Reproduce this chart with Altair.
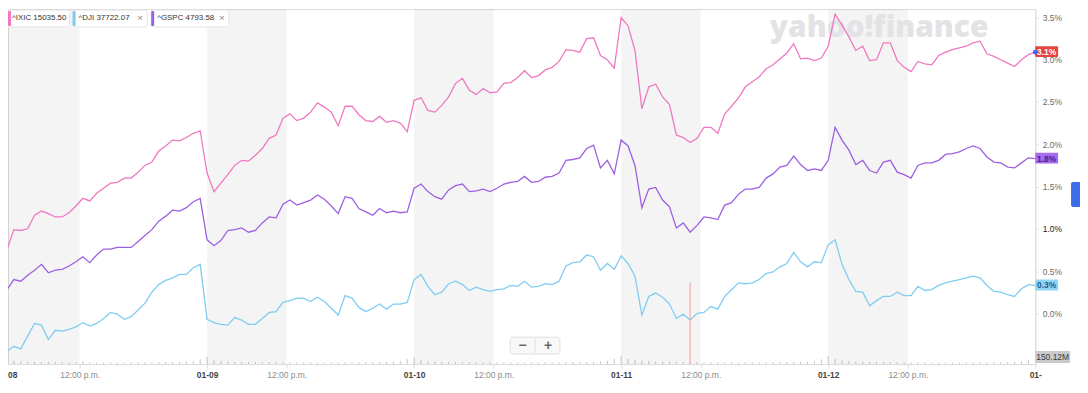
import altair as alt
import pandas as pd

# ---------------- data ----------------
symbols = ["^IXIC", "^DJI", "^GSPC"]
last_prices = ["15035.50", "37722.07", "4793.58"]
line_colors = ["#ee79c0", "#80cdf2", "#9e60e2"]
end_labels = ["3.1%", "0.3%", "1.8%"]
label_fills = ["#e4443d", "#90d4f6", "#a66cf2"]
label_text_colors = ["#ffffff", "#1d5d8c", "#4a1e88"]
day_labels = ["01-08", "01-09", "01-10", "01-11", "01-12", "01-"]

# percent change, sampled every 13 minutes of each trading session (30 per day) + final close
ixic = [
    0.38, 0.75, 0.99, 0.98, 1.00, 1.16, 1.21, 1.18, 1.14, 1.14, 1.19, 1.27, 1.36, 1.33, 1.42,
    1.48, 1.54, 1.55, 1.60, 1.60, 1.67, 1.75, 1.79, 1.92, 1.98, 2.05, 2.04, 2.08, 2.13, 2.16,
    1.66, 1.44, 1.54, 1.64, 1.75, 1.81, 1.80, 1.87, 1.95, 2.07, 2.11, 2.31, 2.36, 2.28, 2.31,
    2.38, 2.49, 2.44, 2.38, 2.22, 2.45, 2.45, 2.35, 2.28, 2.27, 2.33, 2.26, 2.28, 2.25, 2.15,
    2.52, 2.55, 2.40, 2.38, 2.46, 2.56, 2.72, 2.78, 2.64, 2.59, 2.66, 2.61, 2.62, 2.72, 2.73,
    2.79, 2.87, 2.79, 2.81, 2.88, 2.91, 2.98, 3.12, 3.11, 3.09, 3.25, 3.26, 3.05, 3.00, 2.90,
    3.50, 3.40, 3.11, 2.42, 2.68, 2.71, 2.56, 2.47, 2.11, 2.08, 2.02, 2.07, 2.20, 2.20, 2.13,
    2.36, 2.45, 2.55, 2.68, 2.74, 2.80, 2.89, 2.94, 3.01, 3.08, 3.19, 3.01, 3.02, 2.99, 3.02,
    3.16, 3.54, 3.41, 3.27, 3.11, 3.16, 2.99, 3.00, 3.20, 3.20, 2.99, 2.91, 2.86, 2.98, 2.95,
    2.94, 3.05, 3.09, 3.12, 3.14, 3.16, 3.20, 3.22, 3.07, 3.04, 3.00, 2.96, 2.92, 3.00, 3.06,
    3.09,
]
dji = [
    -0.27, -0.45, -0.39, -0.42, -0.27, -0.12, -0.14, -0.31, -0.20, -0.21, -0.19, -0.16, -0.11, -0.15, -0.12,
    -0.06, 0.01, -0.01, -0.07, -0.04, 0.04, 0.12, 0.25, 0.34, 0.39, 0.42, 0.46, 0.46, 0.54, 0.58,
    -0.07, -0.11, -0.13, -0.14, -0.05, -0.08, -0.13, -0.13, -0.06, 0.01, 0.02, 0.13, 0.15, 0.18, 0.18,
    0.14, 0.19, 0.14, 0.06, -0.02, 0.21, 0.18, 0.07, 0.02, 0.06, 0.11, 0.05, 0.11, 0.11, 0.13,
    0.40, 0.46, 0.32, 0.22, 0.25, 0.35, 0.38, 0.34, 0.27, 0.31, 0.28, 0.26, 0.28, 0.29, 0.33,
    0.32, 0.38, 0.31, 0.32, 0.35, 0.34, 0.38, 0.56, 0.60, 0.61, 0.69, 0.67, 0.51, 0.59, 0.52,
    0.68, 0.59, 0.44, -0.02, 0.20, 0.24, 0.19, 0.11, -0.06, -0.01, -0.08, 0.00, 0.01, 0.08, 0.05,
    0.20, 0.28, 0.36, 0.35, 0.36, 0.40, 0.47, 0.49, 0.55, 0.59, 0.72, 0.61, 0.55, 0.61, 0.60,
    0.81, 0.87, 0.58, 0.40, 0.26, 0.25, 0.09, 0.15, 0.20, 0.20, 0.25, 0.21, 0.21, 0.32, 0.27,
    0.28, 0.33, 0.36, 0.38, 0.40, 0.42, 0.44, 0.42, 0.33, 0.26, 0.25, 0.22, 0.20, 0.29, 0.34,
    0.33,
]
gspc = [
    0.20, 0.28, 0.40, 0.38, 0.45, 0.51, 0.58, 0.48, 0.51, 0.52, 0.56, 0.61, 0.67, 0.60, 0.69,
    0.76, 0.76, 0.78, 0.78, 0.78, 0.85, 0.92, 0.99, 1.09, 1.15, 1.22, 1.21, 1.25, 1.32, 1.36,
    0.87, 0.80, 0.86, 0.98, 0.99, 1.01, 0.96, 0.98, 1.07, 1.14, 1.13, 1.29, 1.34, 1.28, 1.31,
    1.34, 1.40, 1.35, 1.27, 1.18, 1.38, 1.36, 1.24, 1.20, 1.16, 1.24, 1.19, 1.21, 1.19, 1.20,
    1.48, 1.53, 1.44, 1.38, 1.35, 1.46, 1.51, 1.53, 1.44, 1.45, 1.47, 1.44, 1.48, 1.53, 1.55,
    1.56, 1.62, 1.55, 1.56, 1.61, 1.62, 1.66, 1.81, 1.82, 1.84, 1.95, 1.99, 1.72, 1.81, 1.65,
    2.05, 1.98, 1.75, 1.25, 1.47, 1.49, 1.34, 1.26, 1.01, 1.07, 0.96, 1.04, 1.14, 1.13, 1.11,
    1.28, 1.31, 1.41, 1.47, 1.47, 1.49, 1.60, 1.65, 1.73, 1.75, 1.86, 1.76, 1.69, 1.71, 1.69,
    1.81, 2.20, 2.05, 1.93, 1.76, 1.81, 1.69, 1.66, 1.79, 1.81, 1.67, 1.64, 1.60, 1.75, 1.78,
    1.78, 1.81, 1.88, 1.89, 1.91, 1.95, 1.98, 1.95, 1.85, 1.79, 1.78, 1.73, 1.72, 1.78, 1.84,
    1.83,
]
# volume (millions) per sample
volume = [
    38, 22, 16, 14, 12, 11, 10, 12, 9, 9, 8, 9, 14, 8, 8, 7, 8, 7, 7, 8, 8, 9, 8, 9, 10, 10, 11, 13, 16, 24,
    36, 20, 15, 13, 11, 10, 10, 9, 9, 9, 8, 8, 8, 8, 7, 8, 7, 7, 8, 7, 8, 8, 8, 9, 9, 10, 11, 12, 15, 26,
    34, 19, 14, 12, 11, 10, 9, 9, 9, 8, 8, 8, 8, 7, 7, 7, 7, 8, 7, 8, 8, 8, 9, 9, 9, 10, 11, 13, 16, 28,
    40, 26, 20, 17, 15, 13, 12, 13, 12, 11, 10, 9, 9, 8, 8, 8, 8, 7, 8, 8, 8, 8, 9, 9, 10, 10, 11, 12, 15, 24,
    42, 25, 18, 15, 13, 12, 11, 11, 10, 9, 9, 8, 8, 8, 8, 7, 7, 7, 8, 7, 8, 8, 8, 8, 9, 9, 10, 12, 14, 22,
]
crosshair_time = [3.333]
crosshair_value = [0.365]
current_volume_label = "150.12M"

# ---------------- time axis (trading days) ----------------
session_hours = 6.5
noon_frac = 2.5 / session_hours          # 12:00 p.m. is 2.5 h after the 9:30 open
points_per_day = 30
n_days = 5
times = [d + k / points_per_day for d in range(n_days) for k in range(points_per_day)] + [float(n_days)]
x_start = 0.0384                          # first minutes of 01-08 sit under the page edge

tick_times, tick_labels = [], []
for d in range(n_days):
    tick_times += [d + noon_frac, d + 1]
    tick_labels += ["12:00 p.m.", day_labels[d + 1]]

label_expr = "''"
for t, lab in reversed(list(zip(tick_times, tick_labels))):
    label_expr = f"abs(datum.value - {t:.4f}) < 0.01 ? '{lab}' : ({label_expr})"

rows = []
for sym, vals in zip(symbols, [ixic, dji, gspc]):
    for t, v in zip(times, vals):
        rows.append({"sym": sym, "t": t, "v": v})
df_lines = pd.DataFrame(rows)
df_vol = pd.DataFrame({"t": times[:-1], "vol": volume})
df_bands = pd.DataFrame({"start": [float(d) for d in range(n_days)],
                         "end": [d + noon_frac for d in range(n_days)]})
df_end = pd.DataFrame({"sym": symbols, "t": [times[-1]] * 3,
                       "v": [ixic[-1], dji[-1], gspc[-1]], "lab": end_labels,
                       "fill": label_fills, "tc": label_text_colors})
df_cross = pd.DataFrame({"t": crosshair_time, "v": crosshair_value})
one = pd.DataFrame({"a": [0]})

W, H = 1033, 357
FONT = "Liberation Sans"
xs = alt.Scale(domain=[x_start, n_days], nice=False, zero=False)
ys = alt.Scale(domain=[-0.6, 3.6], nice=False, zero=False)

x_axis = alt.Axis(
    values=tick_times, labelExpr=label_expr, grid=False, title=None,
    domainColor="#dddddd", tickColor="#dddddd", tickSize=4, labelPadding=3,
    labelFont=FONT, labelFontSize=8.5, labelOverlap=False, labelFlush=False,
    labelColor={"condition": {"test": "datum.value % 1 === 0", "value": "#444444"}, "value": "#8c8c8c"},
    labelFontWeight={"condition": {"test": "datum.value % 1 === 0", "value": "bold"}, "value": "normal"},
)
y_axis = alt.Axis(
    orient="right", values=[-0.5, 0, 0.5, 1, 1.5, 2, 2.5, 3, 3.5], title=None,
    labelExpr="datum.value < 0 ? '' : format(datum.value, '.1f') + '%'",
    gridColor="#eeeeee", domainColor="#dddddd", tickColor="#dddddd", tickSize=3,
    labelPadding=4, labelFont=FONT, labelFontSize=8.5,
    labelColor={"condition": {"test": "datum.value === 1", "value": "#222222"}, "value": "#6a6a6a"},
)


def X(field):
    return alt.X(field, scale=xs, axis=x_axis)


def Y(field):
    return alt.Y(field, scale=ys, axis=y_axis)


bands = alt.Chart(df_bands).mark_rect(color="#000000", opacity=0.042, clip=True).encode(
    x=X("start:Q"), x2="end:Q",
    y=alt.value(0), y2=alt.value(H),
)

watermark = alt.Chart(one).mark_text(
    text="yahoo!finance", font="Open Sans", fontSize=30, fontWeight=800,
    color="#e3e3e6", align="center", baseline="middle",
).encode(x=alt.value(876), y=alt.value(19))

lines = alt.Chart(df_lines).mark_line(strokeWidth=1.3, clip=True).encode(
    x=X("t:Q"), y=Y("v:Q"),
    color=alt.Color("sym:N", scale=alt.Scale(domain=symbols, range=line_colors), legend=None),
    order="t:Q",
)

cross = alt.Chart(df_cross).mark_rule(color="#f2a0a0", strokeWidth=1).encode(
    x=X("t:Q"), y=Y("v:Q"), y2=alt.datum(-0.6),
)

end_dot = alt.Chart(df_end.iloc[[0]]).mark_point(filled=True, shape="circle", size=22,
                                                 color="#3b6ee8", opacity=1).encode(
    x=X("t:Q"), y=Y("v:Q"),
)

end_boxes = alt.Chart(df_end).mark_rect(yOffset=-6, y2Offset=5, cornerRadius=1).encode(
    x=alt.value(W), x2=alt.value(W + 23),
    y=Y("v:Q"), y2="v:Q",
    fill=alt.Fill("fill:N", scale=None),
)
end_texts = alt.Chart(df_end).mark_text(font=FONT, fontSize=8.5, fontWeight="bold",
                                        align="center", baseline="middle").encode(
    x=alt.value(W + 11.5), y=Y("v:Q"),
    text="lab:N", color=alt.Color("tc:N", scale=None),
)

vol = alt.Chart(df_vol).mark_rule(color="#c4c4c4", strokeWidth=1).encode(
    x=X("t:Q"),
    y=alt.Y("vol:Q", scale=alt.Scale(domain=[0, 1800]), axis=None),
    y2=alt.datum(0),
)

layers = [bands, watermark, lines, cross, end_boxes, end_texts, end_dot]

# symbol chips (top left)
chip_geo = [(-4, 62, 0, 4, None), (65, 140, 65, 71, 133), (144, 222, 144, 150, 215)]
for (bx0, bx1, bar_x, tx, xx), sym, price, col in zip(chip_geo, symbols, last_prices, line_colors):
    layers.append(alt.Chart(one).mark_rect(fill="white", stroke="#e4e4e4", strokeWidth=1,
                                           cornerRadius=2).encode(
        x=alt.value(bx0), x2=alt.value(bx1), y=alt.value(1), y2=alt.value(18)))
    layers.append(alt.Chart(one).mark_rect(fill=col, cornerRadius=1).encode(
        x=alt.value(bar_x), x2=alt.value(bar_x + 3), y=alt.value(2), y2=alt.value(17)))
    layers.append(alt.Chart(one).mark_text(text=f"{sym} {price}", font=FONT, fontSize=8,
                                           color="#333333", align="left", baseline="middle").encode(
        x=alt.value(tx), y=alt.value(9.5)))
    if xx is not None:
        layers.append(alt.Chart(one).mark_text(text="×", font=FONT, fontSize=10, color="#8a8a8a",
                                               align="center", baseline="middle").encode(
            x=alt.value(xx), y=alt.value(9.5)))

# zoom control
layers.append(alt.Chart(one).mark_rect(fill="#f8f8f8", stroke="#e0e0e0", strokeWidth=1,
                                       cornerRadius=2).encode(
    x=alt.value(505), x2=alt.value(555), y=alt.value(330), y2=alt.value(347)))
layers.append(alt.Chart(one).mark_rule(color="#e0e0e0").encode(
    x=alt.value(530), y=alt.value(331), y2=alt.value(346)))
for gx, glyph in [(517.5, "−"), (543, "+")]:
    layers.append(alt.Chart(one).mark_text(text=glyph, font=FONT, fontSize=14, fontWeight="bold",
                                           color="#6a6a6a", align="center", baseline="middle").encode(
        x=alt.value(gx), y=alt.value(338.5)))

# current volume box and side tab
layers.append(alt.Chart(one).mark_rect(fill="#c9cacd").encode(
    x=alt.value(W), x2=alt.value(W + 35), y=alt.value(344), y2=alt.value(356)))
layers.append(alt.Chart(one).mark_text(text=current_volume_label, font=FONT, fontSize=8.5,
                                       color="#3a3a3a", align="center", baseline="middle").encode(
    x=alt.value(W + 17.5), y=alt.value(350)))
layers.append(alt.Chart(one).mark_rect(fill="#3b6de8", cornerRadius=2).encode(
    x=alt.value(W + 36), x2=alt.value(W + 46), y=alt.value(174), y2=alt.value(199)))

# partially hidden first date label
layers.append(alt.Chart(one).mark_text(text=day_labels[0][-2:], font=FONT, fontSize=8.5,
                                       fontWeight="bold", color="#444444",
                                       align="left", baseline="top").encode(
    x=alt.value(0), y=alt.value(H + 7)))

main = alt.layer(*layers)

chart = alt.layer(vol, main).resolve_scale(y="independent").properties(
    width=W, height=H,
    autosize=alt.AutoSizeParams(type="none"),
    padding={"left": 0, "top": 0, "right": 45, "bottom": 16},
).configure_view(strokeWidth=0).configure(background="white")

chart.save("out.html", embed_options={"renderer": "svg", "actions": False})
